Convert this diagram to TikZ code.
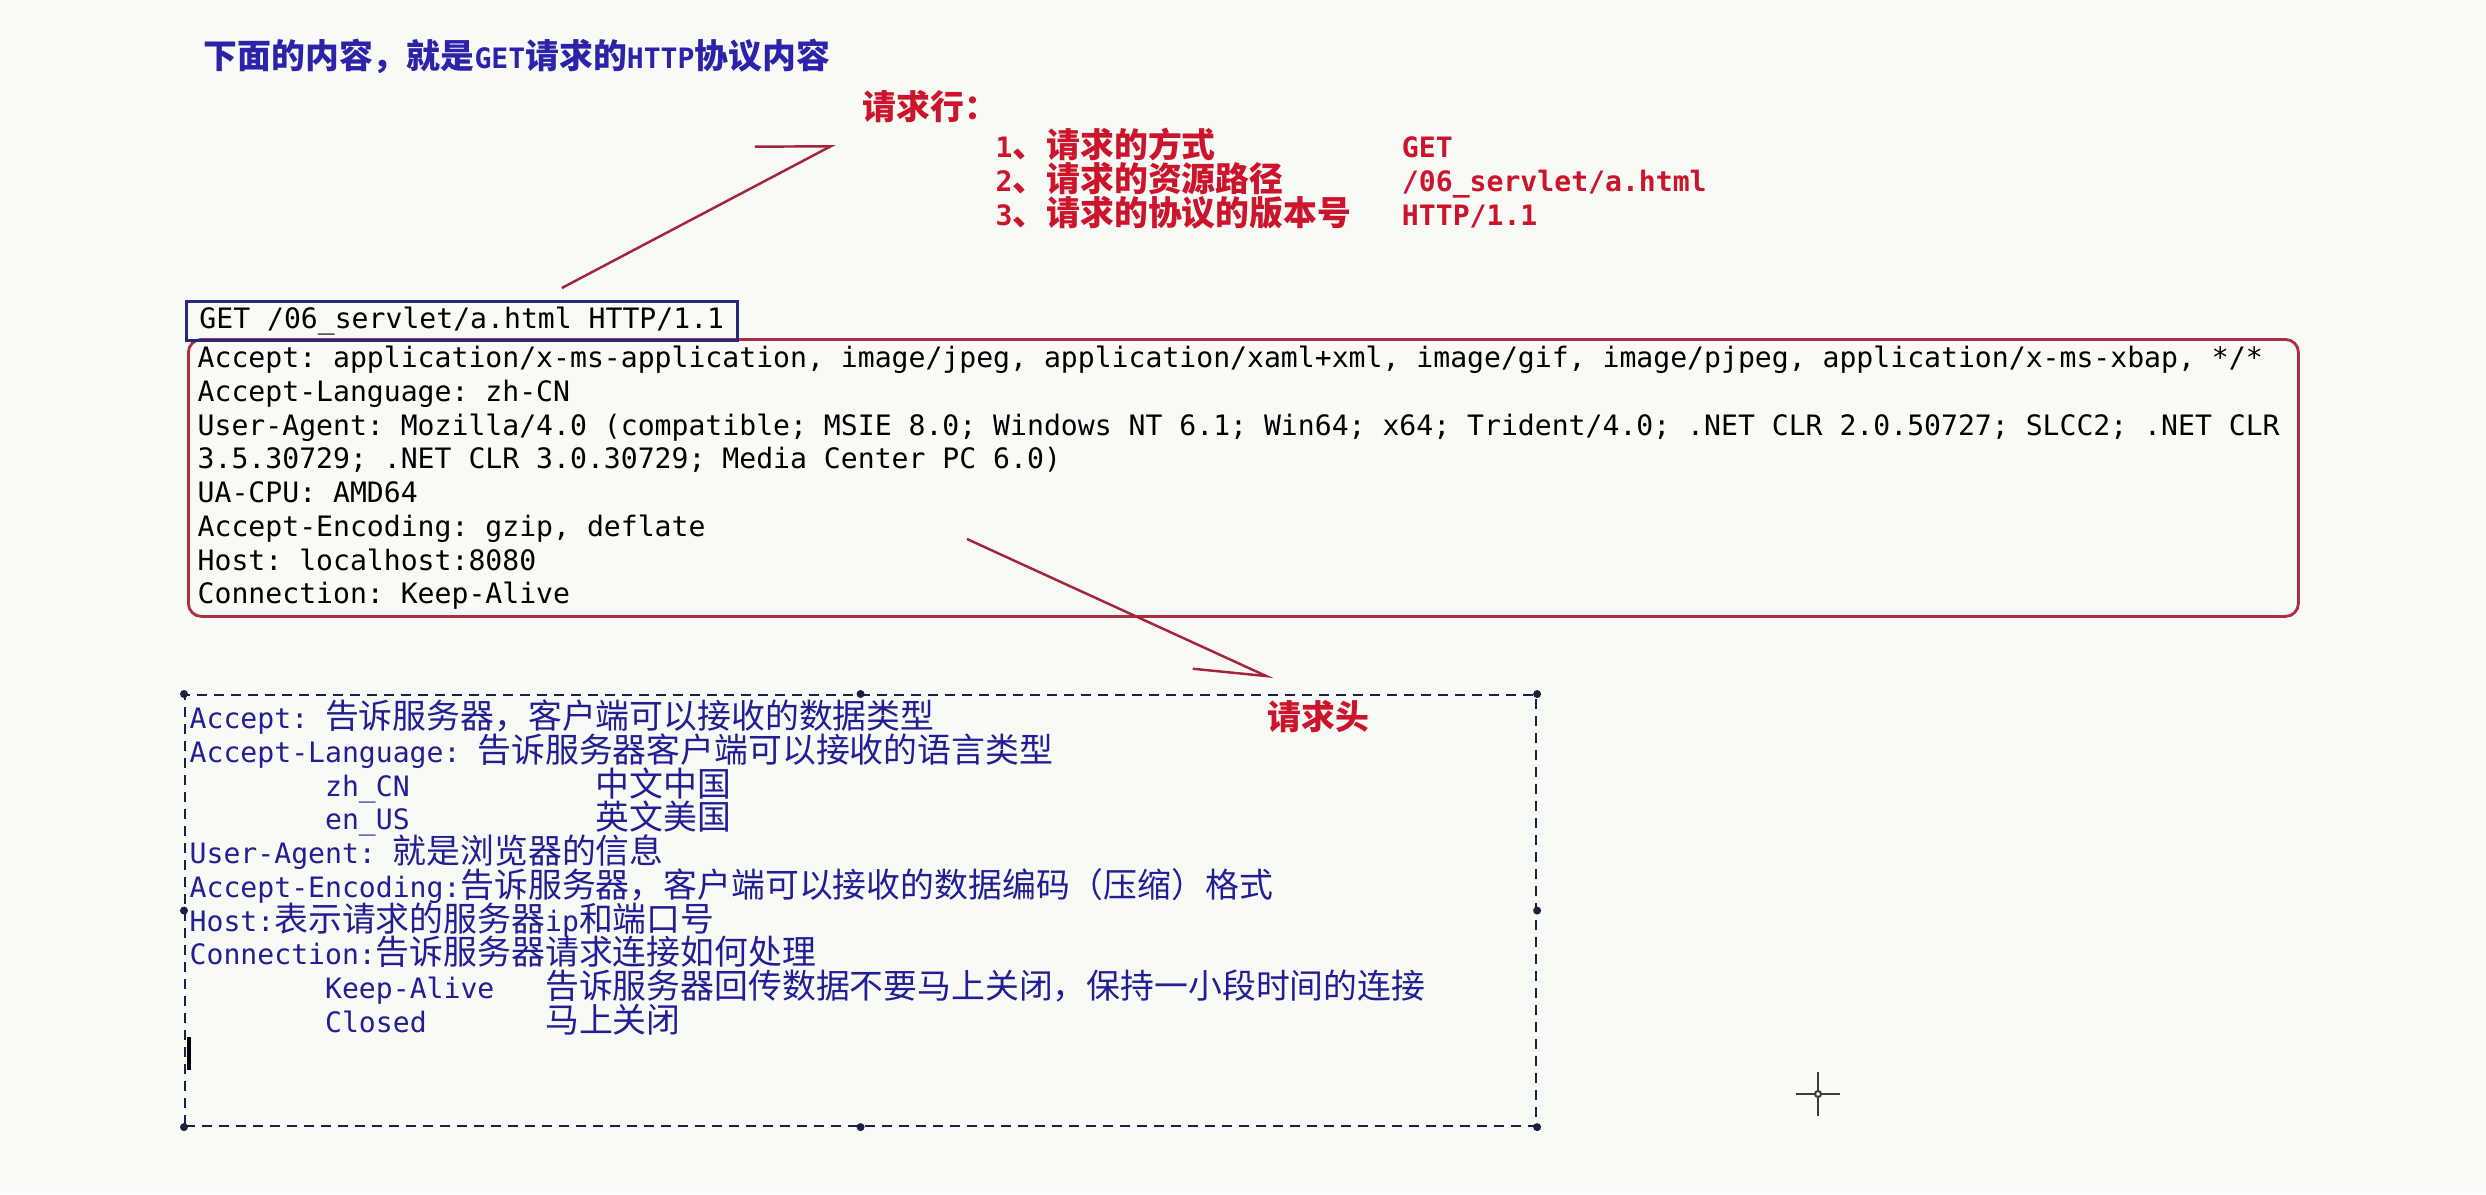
\documentclass[tikz,border=0pt]{standalone}
\usepackage{fontspec}
\usepackage{tikz}
\usetikzlibrary{arrows.meta}
\setmonofont{DejaVu Sans Mono}
\newfontfamily\cjk{Noto Sans CJK SC}[Scale=1.204]
\newcommand{\zh}[1]{{\cjk #1}}
\newlength{\hw}
\setlength{\hw}{4.8164pt}
\newcommand{\lnstrut}{\rule{0pt}{0.34cm}}
\setlength{\lineskiplimit}{-20pt}

\definecolor{paper}{RGB}{248,250,245}
\definecolor{titleblue}{RGB}{45,35,170}
\definecolor{noteblue}{RGB}{35,30,150}
\definecolor{labelred}{RGB}{205,20,45}
\definecolor{framered}{RGB}{175,45,70}
\definecolor{arrowred}{RGB}{165,35,60}
\definecolor{getblue}{RGB}{40,40,130}
\definecolor{dashnavy}{RGB}{30,30,70}
\definecolor{cursorgray}{RGB}{60,60,60}

\tikzset{
  mono/.style={inner sep=0pt, font=\ttfamily\fontsize{8pt}{9.6pt}\selectfont},
  boldmono/.style={inner sep=0pt, font=\ttfamily\bfseries\fontsize{8pt}{9.6pt}\selectfont},
  block/.style={mono, align=left, anchor=north west},
  getbox/.style={mono, draw=getblue, line width=0.8pt, anchor=north west,
    inner xsep=0.13cm, minimum height=0.39cm},
  hdrframe/.style={draw=framered, line width=0.8pt, rounded corners=0.13cm,
    anchor=north west, inner sep=0pt, minimum width=21.1cm, minimum height=2.77cm},
  noteframe/.style={draw=dashnavy, line width=0.6pt, dash pattern=on 0.1cm off 0.07cm,
    anchor=north west, inner sep=0pt, minimum width=13.51cm, minimum height=4.31cm},
  handle/.style={fill=dashnavy},
  ptr/.style={draw=arrowred, line width=0.7pt, -{Straight Barb[#1]}},
}

\begin{document}
\begin{tikzpicture}

\useasboundingbox (0,0) rectangle (24.86,-11.94);
\fill[paper] (0,0) rectangle (24.86,-11.94);

\node[boldmono, anchor=base west, text=titleblue] (title) at (2.03,-0.68)
    {\zh{下面的内容，就是}GET\zh{请求的}HTTP\zh{协议内容}};

\node[boldmono, anchor=base west, text=labelred] (reqline) at (8.62,-1.19) {\zh{请求行：}};
\node[block, font=\ttfamily\bfseries\fontsize{8pt}{9.6pt}\selectfont, text=labelred] (reqlist) at (9.95,-1.23)
    {\lnstrut\makebox[24\hw][l]{1\zh{、请求的方式}}GET\\
     \makebox[24\hw][l]{2\zh{、请求的资源路径}}/06\_servlet/a.html\\
     \makebox[24\hw][l]{3\zh{、请求的协议的版本号}}HTTP/1.1};

\node[hdrframe] (hdrbox) at (1.87,-3.38) {};
\node[getbox] (getline) at (1.85,-3.00) {GET /06\_servlet/a.html HTTP/1.1};
\node[block, text=black] (hdr) at (1.97,-3.33)
    {\lnstrut Accept: application/x-ms-application, image/jpeg, application/xaml+xml, image/gif, image/pjpeg, application/x-ms-xbap, */*\\
     Accept-Language: zh-CN\\
     User-Agent: Mozilla/4.0 (compatible; MSIE 8.0; Windows NT 6.1; Win64; x64; Trident/4.0; .NET CLR 2.0.50727; SLCC2; .NET CLR\\
     3.5.30729; .NET CLR 3.0.30729; Media Center PC 6.0)\\
     UA-CPU: AMD64\\
     Accept-Encoding: gzip, deflate\\
     Host: localhost:8080\\
     Connection: Keep-Alive};

\node[noteframe] (notebox) at (1.84,-6.94) {};
\fill[handle] (notebox.north west) circle (0.04);
\fill[handle] (notebox.north) circle (0.04);
\fill[handle] (notebox.north east) circle (0.04);
\fill[handle] (notebox.east) circle (0.04);
\fill[handle] (notebox.south east) circle (0.04);
\fill[handle] (notebox.south) circle (0.04);
\fill[handle] (notebox.south west) circle (0.04);
\fill[handle] (notebox.west) circle (0.04);

\node[block, text=noteblue] (notes) at (1.89,-6.94)
    {\lnstrut Accept: \zh{告诉服务器，客户端可以接收的数据类型}\\
     Accept-Language: \zh{告诉服务器客户端可以接收的语言类型}\\
     \hspace*{8\hw}\makebox[16\hw][l]{zh\_CN}\zh{中文中国}\\
     \hspace*{8\hw}\makebox[16\hw][l]{en\_US}\zh{英文美国}\\
     User-Agent: \zh{就是浏览器的信息}\\
     Accept-Encoding:\zh{告诉服务器，客户端可以接收的数据编码（压缩）格式}\\
     Host:\zh{表示请求的服务器}ip\zh{和端口号}\\
     Connection:\zh{告诉服务器请求连接如何处理}\\
     \hspace*{8\hw}\makebox[13\hw][l]{Keep-Alive}\zh{告诉服务器回传数据不要马上关闭，保持一小段时间的连接}\\
     \hspace*{8\hw}\makebox[13\hw][l]{Closed}\zh{马上关闭}};

\node[boldmono, anchor=base west, text=labelred] (reqhead) at (12.67,-7.29) {\zh{请求头}};

% pointers
\coordinate (lineptr) at (8.35,-1.44);
\draw[ptr={left,length=0.67cm,width=0.7cm}]
    ([xshift=1.0cm,yshift=0.12cm]getline.north) -- (lineptr);
\coordinate (hdrptr) at (9.67,-5.39);
\draw[ptr={right,length=0.7cm,width=0.48cm}]
    (hdrptr) -- ([xshift=0.06cm,yshift=0.2cm]reqhead.north west);

% caret and mouse cursor
\draw[line width=1pt] (1.89,-10.37) -- (1.89,-10.70);
\draw[cursorgray, line width=0.6pt]
    (18.18,-10.72) -- (18.18,-11.16)
    (17.96,-10.94) -- (18.40,-10.94);
\draw[cursorgray, line width=0.6pt, fill=paper] (18.18,-10.94) circle (0.03);
\end{tikzpicture}
\end{document}
